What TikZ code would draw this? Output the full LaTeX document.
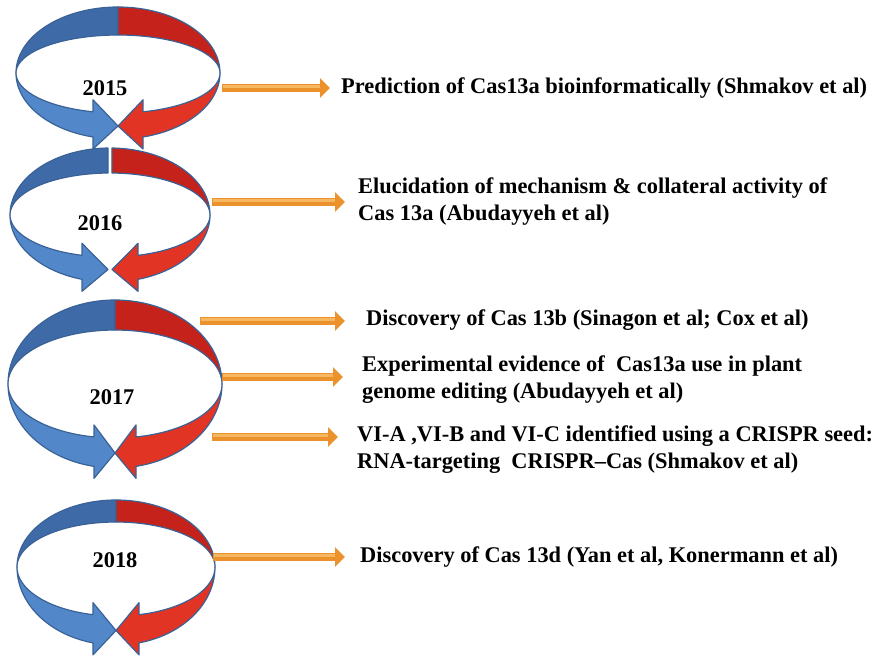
\documentclass[tikz,border=0pt]{standalone}
\usepackage{fontspec}
\setmainfont{Liberation Serif}
\usetikzlibrary{arrows.meta}

\definecolor{blueback}{RGB}{62,106,168}
\definecolor{bluefront}{RGB}{82,136,202}
\definecolor{redback}{RGB}{196,34,26}
\definecolor{redfront}{RGB}{226,52,36}
\definecolor{loopedge}{RGB}{58,98,150}
\definecolor{arrowdark}{RGB}{236,146,44}
\definecolor{arrowlight}{RGB}{247,182,96}

% one year loop: cx, cy, a, outer b (top), inner b (top), outer b (bottom), inner b (bottom), head offset, gap
\newcommand{\yearloop}[9]{%
  \pgfmathsetmacro{\ttop}{acos(-#9/#3)}%
  \pgfmathsetmacro{\tbase}{360-acos(-#8/#3)}%
  \pgfmathsetmacro{\yout}{#2-#6*sin(\tbase)}%
  \pgfmathsetmacro{\yin}{#2-#7*sin(\tbase)}%
  \pgfmathsetmacro{\ytip}{#2+(#6+#7)/2}%
  % back half
  \filldraw[loopline, fill=blueback] plot[domain=\ttop:180] ({#1+#3*cos(\x)},{#2-#4*sin(\x)})
    -- plot[domain=180:\ttop] ({#1+#3*cos(\x)},{#2-#5*sin(\x)}) -- cycle;
  \filldraw[loopline, fill=redback] plot[domain=\ttop:180] ({#1-#3*cos(\x)},{#2-#4*sin(\x)})
    -- plot[domain=180:\ttop] ({#1-#3*cos(\x)},{#2-#5*sin(\x)}) -- cycle;
  % front half with the heads
  \filldraw[loopline, fill=bluefront] plot[domain=180:\tbase] ({#1+#3*cos(\x)},{#2-#6*sin(\x)})
    -- ({#1-#8},{\yout+12}) -- ({#1-#9},\ytip) -- ({#1-#8},{\yin-12})
    -- plot[domain=\tbase:180] ({#1+#3*cos(\x)},{#2-#7*sin(\x)}) -- cycle;
  \filldraw[loopline, fill=redfront] plot[domain=180:\tbase] ({#1-#3*cos(\x)},{#2-#6*sin(\x)})
    -- ({#1+#8},{\yout+12}) -- ({#1+#9},\ytip) -- ({#1+#8},{\yin-12})
    -- plot[domain=\tbase:180] ({#1-#3*cos(\x)},{#2-#7*sin(\x)}) -- cycle;
}

\tikzset{
  loopline/.style={draw=loopedge, line width=1.2pt, line join=round, samples=40},
  yearlabel/.style={font=\fontsize{22.4}{26}\selectfont\bfseries},
  event/.style={anchor=west, inner sep=0pt, align=left, font=\fontsize{22.4}{27}\selectfont\bfseries},
  timearrow/.style={draw=arrowdark, line width=8pt, -{Triangle[length=10pt,width=19pt]},
    shorten >=#1, postaction={draw=arrowlight, line width=3pt, -, shorten <=1pt,
    shorten >=#1+10pt, transform canvas={yshift=1.2pt}}}
}

\begin{document}
\begin{tikzpicture}[x=1pt, y=-1pt]
\path[fill=white, use as bounding box] (0,0) rectangle (875,659);

\yearloop{118}{73}{102}{66}{38}{66}{40}{25}{0}
\yearloop{110}{215}{100}{67}{42}{67}{42}{28}{2}
\yearloop{115}{384}{107}{84}{54}{84}{54}{21}{0}
\yearloop{116}{567}{99}{67}{45}{78}{49}{23}{0}

\node[yearlabel] (y15) at (105,88) {2015};
\node[yearlabel] (y16) at (100,223) {2016};
\node[yearlabel] (y17) at (112,397) {2017};
\node[yearlabel] (y18) at (115,560) {2018};

\node[event] (pred) at (341,88) {Prediction of Cas13a bioinformatically (Shmakov et al)};
\node[event] (eluc) at (358,202) {Elucidation of mechanism \& collateral activity of\\Cas 13a (Abudayyeh et al)};
\node[event] (cas13b) at (366,320) {Discovery of Cas 13b (Sinagon et al; Cox et al)};
\node[event] (plant) at (362,380) {Experimental evidence of\ \ Cas13a use in plant\\genome editing (Abudayyeh et al)};
\node[event] (seed) at (357,450) {VI-A ,VI-B and VI-C identified using a CRISPR seed:\\RNA-targeting\ \ CRISPR--Cas (Shmakov et al)};
\node[event] (cas13d) at (360,557) {Discovery of Cas 13d (Yan et al, Konermann et al)};

\coordinate (s15) at (222,88);
\coordinate (s16) at (212,202);
\coordinate (s17a) at (200,321);
\coordinate (s17b) at (222,377);
\coordinate (s17c) at (212,437);
\coordinate (s18) at (213,557);

\draw[timearrow=11pt] (s15) -- (s15 -| pred.west);
\draw[timearrow=13pt] (s16) -- (s16 -| eluc.west);
\draw[timearrow=21pt] (s17a) -- (s17a -| cas13b.west);
\draw[timearrow=19pt] (s17b) -- (s17b -| plant.west);
\draw[timearrow=19pt] (s17c) -- (s17c -| seed.west);
\draw[timearrow=15pt] (s18) -- (s18 -| cas13d.west);
\end{tikzpicture}
\end{document}
